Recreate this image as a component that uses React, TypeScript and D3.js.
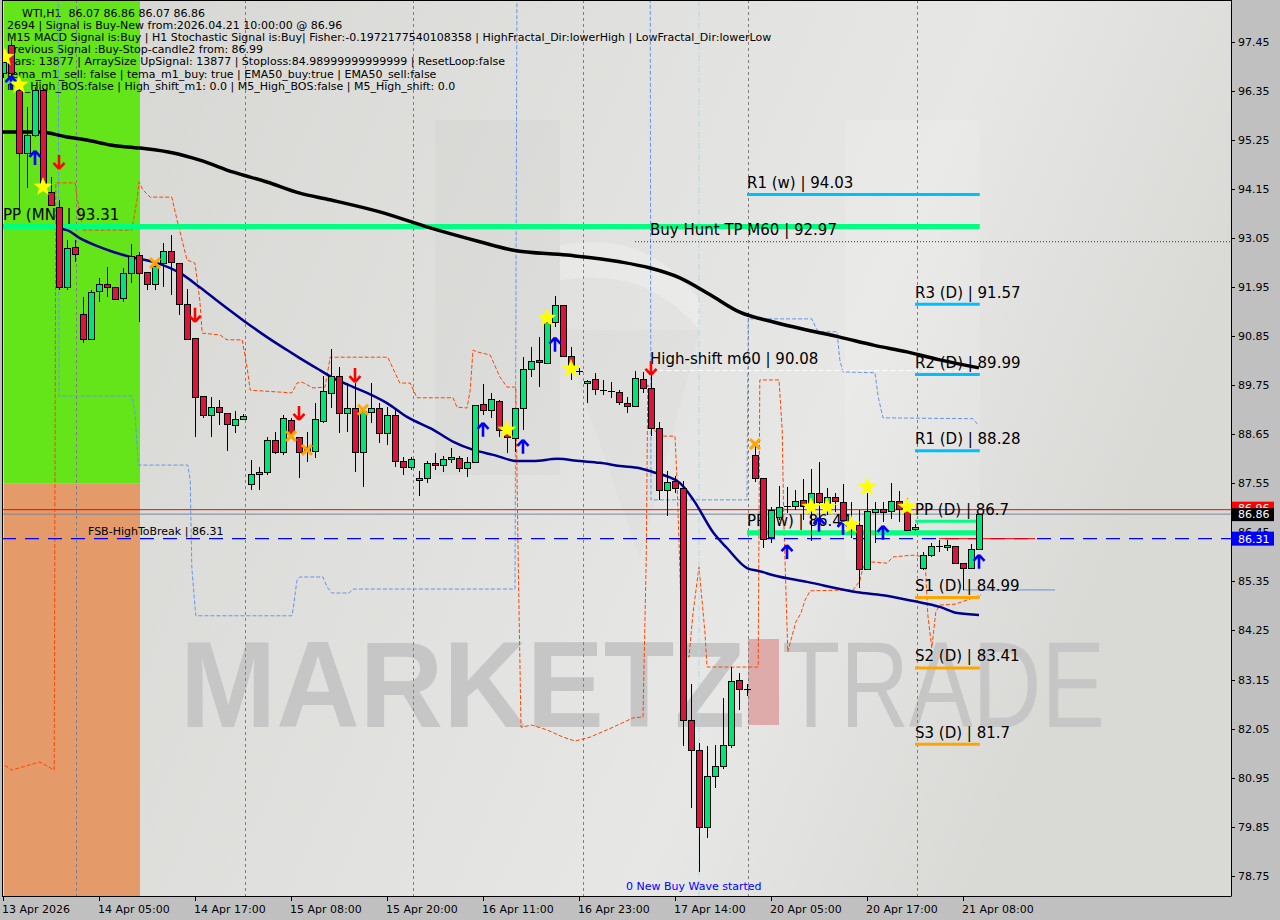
import * as d3 from "d3";

// WTI H1 candles, bar 0 = first visible bar
const opens = [
  96.75, 97.38, 96.37, 94.96, 95.36, 96.37, 94.09, 93.75, 91.95, 92.85,
  91.35, 90.79, 91.86, 92.02, 91.95, 91.71, 92.27, 92.67, 92.29, 92.02,
  92.49, 92.76, 92.49, 91.57, 90.81, 89.51, 89.08, 89.26, 89.13, 88.86,
  88.99, 87.54, 87.76, 87.81, 88.52, 88.25, 88.97, 88.59, 88.28, 88.28,
  88.95, 89.58, 89.96, 89.13, 89.24, 88.25, 89.15, 89.24, 88.68, 89.08,
  88.05, 87.92, 87.63, 87.67, 88.01, 87.96, 88.1, 88.12, 87.89, 88.03,
  89.33, 89.2, 89.4, 88.75, 88.57, 89.24, 90.11, 90.32, 90.25, 91.17,
  91.55, 90.41, 90.07, 89.8, 89.89, 89.64, 89.62, 89.6, 89.35, 89.28,
  89.89, 89.69, 88.79, 87.4, 87.6, 87.45, 82.24, 81.57, 79.84, 80.98,
  81.21, 81.68, 83.14, 82.94, 88.19, 87.67, 86.35, 86.79, 87.02, 87.04,
  87.18, 87.07, 87.34, 87.11, 87.24, 87.13, 86.57, 86.62, 85.63, 86.91,
  86.97, 86.93, 87.15, 86.97, 86.53, 85.65, 85.94, 86.13, 86.12, 86.14,
  85.76, 85.65, 86.07,
];
const highs = [
  97.09, 97.49, 96.66, 96.0, 96.44, 96.42, 94.42, 93.91, 93.01, 93.01,
  91.73, 91.89, 92.16, 92.4, 91.95, 92.38, 92.92, 92.74, 92.29, 92.49,
  92.94, 93.12, 92.49, 91.91, 90.81, 89.51, 89.49, 89.42, 89.13, 89.17,
  89.1, 88.07, 87.92, 88.59, 88.7, 89.08, 89.01, 88.59, 88.7, 89.35,
  89.96, 90.56, 90.16, 89.8, 89.8, 89.17, 89.8, 89.35, 89.26, 89.2,
  88.14, 88.14, 87.83, 88.05, 88.23, 88.16, 88.34, 88.16, 88.14, 89.31,
  89.78, 89.58, 89.42, 88.86, 89.24, 90.38, 90.61, 90.83, 91.17, 91.75,
  91.55, 90.61, 90.14, 89.87, 90.03, 89.87, 89.82, 89.64, 89.49, 90.07,
  90.05, 90.0, 88.93, 87.83, 87.72, 87.61, 83.05, 81.72, 81.66, 81.68,
  82.73, 83.43, 83.3, 83.05, 88.41, 87.67, 87.02, 87.49, 87.47, 87.4,
  87.65, 87.87, 88.03, 87.45, 87.34, 87.54, 87.13, 86.95, 87.34, 87.13,
  87.13, 87.56, 87.38, 87.22, 86.64, 86.01, 86.21, 86.28, 86.28, 86.14,
  85.76, 86.19, 86.87,
];
const lows = [
  96.64, 96.6, 93.68, 94.18, 95.32, 94.13, 93.77, 91.89, 91.89, 92.52,
  90.7, 90.77, 91.62, 91.73, 91.66, 91.62, 92.04, 91.17, 91.89, 91.89,
  91.95, 91.78, 91.33, 90.79, 88.59, 89.02, 88.59, 88.86, 88.28, 88.68,
  88.97, 87.4, 87.4, 87.74, 88.21, 88.19, 88.61, 87.67, 88.03, 88.12,
  88.9, 89.24, 88.68, 88.7, 87.81, 87.47, 88.9, 88.45, 88.41, 87.92,
  87.74, 87.85, 87.27, 87.56, 87.85, 87.81, 88.01, 87.81, 87.69, 88.01,
  89.08, 89.02, 88.59, 88.23, 88.25, 88.75, 89.94, 89.71, 90.25, 91.06,
  90.41, 89.87, 89.98, 89.35, 89.53, 89.53, 89.46, 89.31, 89.13, 89.26,
  89.58, 88.61, 87.18, 86.82, 87.34, 81.66, 80.27, 78.83, 79.59, 80.72,
  81.14, 81.61, 82.47, 82.78, 87.58, 86.1, 86.21, 86.73, 86.88, 86.95,
  86.73, 86.26, 86.62, 86.84, 86.91, 86.5, 86.32, 85.2, 85.63, 86.21,
  86.68, 86.75, 86.68, 86.5, 86.48, 85.61, 85.9, 86.01, 86.03, 85.76,
  85.16, 85.63, 86.07,
];
const closes = [
  97.0, 96.75, 94.96, 95.36, 96.37, 94.2, 93.79, 91.95, 92.83, 92.69,
  90.79, 91.84, 92.02, 91.95, 91.68, 92.27, 92.65, 92.27, 92.02, 92.43,
  92.76, 92.52, 91.57, 90.79, 89.49, 89.08, 89.26, 89.15, 88.88, 88.99,
  89.06, 87.76, 87.81, 88.52, 88.25, 89.02, 88.68, 88.25, 88.37, 88.99,
  89.62, 89.96, 89.13, 89.24, 88.25, 89.17, 89.24, 88.68, 89.08, 88.05,
  87.92, 88.1, 87.67, 88.01, 87.96, 88.1, 88.14, 87.89, 88.03, 89.31,
  89.2, 89.44, 88.75, 88.59, 89.24, 90.11, 90.29, 90.27, 91.17, 91.55,
  90.41, 90.16, 90.05, 89.85, 89.67, 89.63, 89.61, 89.38, 89.28, 89.91,
  89.69, 88.79, 87.4, 87.58, 87.45, 82.24, 81.57, 79.84, 80.98, 81.21,
  81.68, 83.12, 82.94, 82.93, 87.67, 86.3, 86.95, 87.02, 87.04, 87.15,
  87.04, 87.34, 87.13, 87.24, 87.15, 86.73, 86.62, 85.63, 86.93, 86.97,
  86.91, 87.15, 86.97, 86.5, 86.57, 85.94, 86.14, 86.14, 86.17, 85.76,
  85.65, 86.08, 86.86,
];

const priceTicks = [
  97.45, 96.35, 95.25, 94.15, 93.05, 91.95, 90.85, 89.75, 88.65, 87.55,
  86.45, 85.35, 84.25, 83.15, 82.05, 80.95, 79.85, 78.75,
];
const timeLabelBars = [0, 12, 24, 36, 48, 60, 72, 84, 96, 108, 120];
const timeLabels = [
  "13 Apr 2026", "14 Apr 05:00", "14 Apr 17:00", "15 Apr 08:00", "15 Apr 20:00",
  "16 Apr 11:00", "16 Apr 23:00", "17 Apr 14:00", "20 Apr 05:00", "20 Apr 17:00",
  "21 Apr 08:00",
];
const sessionBars = [9.1, 30.25, 51.3, 72.45, 93.1, 114.25];

// [bar, price]
const ema200 = [
  [-0.4, 95.43], [4.6, 95.43], [8, 95.32], [10.5, 95.25], [13.4, 95.14], [17.1, 95.07],
  [21.3, 94.96], [24.6, 94.8], [28.8, 94.53], [33, 94.31], [37.1, 94.06], [40.9, 93.91],
  [47.1, 93.64], [53.4, 93.28], [59.6, 92.97], [63.8, 92.78], [70.5, 92.67], [77.1, 92.52],
  [80.9, 92.38], [84.6, 92.16], [88.4, 91.78], [92.1, 91.39], [96.3, 91.17], [100.5, 90.99],
  [104.6, 90.83], [108.8, 90.65], [113, 90.5], [117.1, 90.32], [122, 90.14],
];
const ema50 = [
  [6.9, 93.26], [8, 93.23], [9.6, 93.05], [11.8, 92.87], [13.8, 92.74], [15.9, 92.63],
  [19.3, 92.49], [22.1, 92.27], [24.6, 91.95], [27.1, 91.6], [30, 91.21], [33, 90.83],
  [35.5, 90.54], [37.1, 90.36], [39.6, 90.09], [41.3, 89.91], [43.8, 89.71], [45.5, 89.58],
  [48, 89.35], [50.5, 89.04], [53.8, 88.75], [56.3, 88.48], [58.8, 88.3], [61.3, 88.19],
  [64.3, 88.05], [66.3, 88.05], [69.3, 88.1], [72.1, 88.05], [74.6, 88.01], [77.1, 87.94],
  [79.6, 87.89], [81.3, 87.8], [83, 87.71], [84.6, 87.56], [86.3, 87.18], [88.8, 86.44],
  [90.5, 86.1], [93, 85.65], [94.6, 85.58], [96.3, 85.49], [100.5, 85.34], [106.8, 85.11],
  [110, 85.04], [113.8, 84.91], [117.1, 84.78], [119.3, 84.64], [122, 84.6],
];
const orangeBand = [
  [-0.4, 81.3], [1.1, 81.12], [4.6, 81.3], [6.4, 81.12], [6.6, 94.29], [9, 94.29],
  [9.25, 93.97], [10, 93.23], [16.1, 93.23], [16.75, 93.91], [17, 94.31], [17.5, 94.13],
  [18.4, 93.97], [21.1, 93.97], [21.75, 93.46], [23, 92.56], [24, 92.49], [24.6, 91.66],
  [24.9, 90.92], [27.1, 90.88], [28, 90.77], [29.9, 90.77], [30.5, 90.16], [30.9, 89.64],
  [36.1, 89.58], [36.75, 89.8], [37.4, 89.82], [38.75, 89.69], [40.25, 89.71], [40.9, 90.38],
  [48.1, 90.38], [49, 90.03], [49.6, 89.8], [50.9, 89.8], [51.75, 89.47], [56.25, 89.47],
  [56.75, 89.26], [58, 89.24], [58.4, 89.64], [58.75, 90.54], [59.25, 90.5], [60.9, 90.43],
  [62.1, 89.94], [63, 89.71], [64.1, 89.71], [64.4, 85.83], [64.75, 82.08], [66.1, 82.13],
  [68, 82.02], [70, 81.86], [71.5, 81.77], [73.4, 81.86], [76.25, 82.08], [78.75, 82.29],
  [80, 82.31], [80.4, 85.83], [80.6, 89.76], [81.1, 89.58], [81.4, 88.75], [82.1, 88.61],
  [84, 88.61], [84.25, 87.63], [84.6, 85.67], [84.9, 83.81], [85.75, 83.65], [86.25, 84.64],
  [87, 85.67], [87.75, 84.19], [88, 83.43], [93, 83.43], [94.4, 83.43], [94.6, 89.87],
  [97, 89.87], [97.4, 88.75], [97.6, 86.73], [97.9, 84.93], [98.1, 83.77], [98.5, 84.04],
  [99.1, 84.44], [99.75, 84.64], [100.25, 84.93], [100.9, 85.14], [106.25, 85.16], [107.1, 85.36],
  [107.5, 85.67], [108.4, 85.79], [110.5, 85.76], [111.25, 85.9], [113.75, 85.94], [115.25, 85.9],
  [115.6, 84.6], [116.1, 83.86], [116.6, 84.66], [117.1, 84.82], [119, 84.84], [121.25, 84.98],
  [122.25, 85.05],
];
const blueBand = [
  [6.9, 98.85], [7, 89.51], [16.1, 89.51], [16.5, 89.13], [16.9, 87.96], [23.1, 87.96],
  [23.4, 87.63], [23.6, 85.67], [24, 84.78], [24.1, 84.58], [36.1, 84.58], [36.25, 84.71],
  [36.75, 85.38], [37.1, 85.45], [40, 85.45], [40.5, 85.23], [41.1, 85.09], [43.25, 85.09],
  [43.75, 85.18], [64, 85.18], [64.25, 98.85], [80.9, 98.85], [81, 87.18], [93, 87.18],
  [93.15, 91.24], [101.1, 91.24], [101.75, 90.99], [102.1, 90.95], [104.25, 90.95], [104.6, 90.32],
  [105, 90.05], [109, 90.03], [109.4, 89.49], [110, 89.02], [121.25, 89.0], [121.9, 88.86],
];

const upArrows = [
  [1, 96.53], [4, 94.85], [60, 88.75], [65, 88.37], [69, 90.66], [98, 86.01],
  [102, 86.62], [105, 86.55], [110, 86.44], [122, 85.79],
];
const downArrows = [[7, 94.76], [24, 91.33], [37, 89.13], [44, 89.98], [81, 90.14]];
const stars = [
  [0.25, 97.11], [2, 96.49], [5, 94.2], [68, 91.26], [63, 88.75], [71, 90.12],
  [101, 87.02], [103, 87.02], [106, 86.62], [108, 87.47], [113, 87.02],
];
const crosses = [[19, 92.49], [36, 88.61], [38, 88.3], [45, 89.2], [94, 88.43]];

// pivot / signal levels
const levelNames = [
  "PP (MN)", "R1 (w)", "PP (w)", "R3 (D)", "R2 (D)", "R1 (D)", "PP (D)", "S1 (D)", "S2 (D)", "S3 (D)",
];
const levelValues = [93.31, 94.03, 86.44, 91.57, 89.99, 88.28, 86.7, 84.99, 83.41, 81.7];
const levelStart = [-0.4, 93, 93, 114, 114, 114, 114, 114, 114, 114];
const labelStart = [0, 93, 93, 114, 114, 114, 114, 114, 114, 114];
const levelKinds = ["pp", "r", "pp", "r", "r", "r", "ppd", "s", "s", "s"];
const levelLabels = ["93.31", "94.03", "86.44", "91.57", "89.99", "88.28", "86.7", "84.99", "83.41", "81.7"];

const buyHuntTP = 92.97;
const highShift = 90.08;
const fsbHigh = 86.31;
const askPrice = 86.96;
const bidPrice = 86.86;
const newWaveBar = 87;

const headerLines = [
  "2694 | Signal is Buy-New from:2026.04.21 10:00:00 @ 86.96",
  "M15 MACD Signal is:Buy | H1 Stochastic Signal is:Buy| Fisher:-0.1972177540108358 | HighFractal_Dir:lowerHigh | LowFractal_Dir:lowerLow",
  "Previous Signal :Buy-Stop-candle2 from: 86.99",
  "Bars: 13877 | ArraySize UpSignal: 13877 | Stoploss:84.98999999999999 | ResetLoop:false",
  "tema_m1_sell: false | tema_m1_buy: true | EMA50_buy:true | EMA50_sell:false",
  "m1_High_BOS:false | High_shift_m1: 0.0 | M5_High_BOS:false | M5_High_shift: 0.0",
];

const W = 1280;
const H = 920;
const PL = 2;
const PR = 1231;
const PB = 896;

const FONT = "DejaVu Sans, Verdana, sans-serif";

function starPath(cx: number, cy: number, R: number, r: number) {
  const pts: string[] = [];
  for (let k = 0; k < 10; k++) {
    const rad = k % 2 === 0 ? R : r;
    const a = -Math.PI / 2 + (k * Math.PI) / 5;
    pts.push(`${cx + rad * Math.cos(a)},${cy + rad * Math.sin(a)}`);
  }
  return "M" + pts.join("L") + "Z";
}

export default function App() {
  const x = d3.scaleLinear().domain([0, 122]).range([3, 979]);
  const y = d3.scaleLinear().domain([97.45, 78.75]).range([42, 875.7]);
  const smooth = d3
    .line<number[]>()
    .x((d) => x(d[0]))
    .y((d) => y(d[1]))
    .curve(d3.curveMonotoneX);
  const step = d3
    .line<number[]>()
    .x((d) => x(d[0]))
    .y((d) => y(d[1]));

  const levelColor = (k: string) =>
    k === "r" ? "#00BFFF" : k === "s" ? "#FFA500" : "#00FF7F";
  const levelWidth = (k: string) => (k === "pp" ? 5 : 3);

  return (
    <svg
      width={W}
      height={H}
      style={{ position: "absolute", left: 0, top: 0, background: "#C0C0C0" }}
    >
      <defs>
        <linearGradient id="bg" x1="0" y1="0" x2="1" y2="0.3">
          <stop offset="0%" stopColor="#D5D5D2" />
          <stop offset="55%" stopColor="#E2E2E0" />
          <stop offset="75%" stopColor="#E7E7E6" />
          <stop offset="100%" stopColor="#D9D9D6" />
        </linearGradient>
        <clipPath id="plot">
          <rect x={PL} y={0} width={PR - PL} height={PB} />
        </clipPath>
      </defs>

      <rect x={0} y={0} width={W} height={H} fill="#C0C0C0" />
      <rect x={PL} y={0} width={PR - PL} height={PB} fill="url(#bg)" />

      <g clipPath="url(#plot)">
        {/* logo watermark, faint */}
        <rect x={435} y={120} width={125} height={355} fill="#000" opacity={0.018} />
        <path d="M560,245 C620,235 660,250 700,300 L700,330 C660,285 620,272 560,280 Z" fill="#fff" opacity={0.25} />
        <path d="M560,330 L640,560 L700,330 Z" fill="#000" opacity={0.015} />
        <rect x={845} y={120} width={135} height={440} fill="#fff" opacity={0.12} />

        {/* session zones */}
        <rect x={x(0) + 1} y={0} width={x(17) - x(0)} height={y(87.55)} fill="#63E51A" />
        <rect x={x(0) + 1} y={y(87.55)} width={x(17) - x(0)} height={PB - y(87.55)} fill="#E59A6A" />

        {/* big brand text */}
        <text x={180} y={727} fontFamily="Liberation Sans, Arial, sans-serif" fontWeight="bold" fontSize={122}
          textLength={565} lengthAdjust="spacingAndGlyphs" fill="#C6C6C6">MARKETZ</text>
        <rect x={748} y={639} width={31} height={86} fill="#DFAAAA" />
        <text x={782} y={727} fontFamily="Liberation Sans, Arial, sans-serif" fontSize={122}
          textLength={323} lengthAdjust="spacingAndGlyphs" fill="#C6C6C6">TRADE</text>

        {/* vertical session grid */}
        {sessionBars.map((b) => (
          <line key={b} x1={Math.round(x(b)) + 0.5} x2={Math.round(x(b)) + 0.5} y1={0} y2={PB}
            stroke="#7E7E7E" strokeDasharray="3,3" />
        ))}

        {/* header text */}
        <g fontFamily={FONT} fontSize={11} fill="#000">
          <text x={22} y={16.5} style={{ whiteSpace: "pre" }}>{"WTI,H1  86.07 86.86 86.07 86.86"}</text>
          {headerLines.map((t, i) => (
            <text key={i} x={7} y={29 + i * 12.15} style={{ whiteSpace: "pre" }}>{t}</text>
          ))}
        </g>

        {/* price lines */}
        <line x1={PL} x2={PR} y1={y(askPrice)} y2={y(askPrice)} stroke="#FF0000" strokeWidth={1} />
        <line x1={PL} x2={PR} y1={y(bidPrice)} y2={y(bidPrice)} stroke="#778899" strokeWidth={1} />

        {/* bands */}
        <path d={step(blueBand) || ""} fill="none" stroke="#6495ED" strokeWidth={1} strokeDasharray="4,2" />
        <path d={step(orangeBand) || ""} fill="none" stroke="#FF4500" strokeWidth={1} strokeDasharray="4,2" />
        <line x1={x(newWaveBar)} x2={x(newWaveBar)} y1={0} y2={PB} stroke="#A8DDE6" strokeWidth={1} strokeDasharray="6,2,1,2" />

        {/* FSB line */}
        <line x1={PL} x2={PR} y1={y(fsbHigh)} y2={y(fsbHigh)} stroke="#0000FF" strokeWidth={1.3} strokeDasharray="14,9" />
        <line x1={x(117)} x2={x(129)} y1={y(fsbHigh)} y2={y(fsbHigh)} stroke="#FF0000" strokeWidth={1} />
        <line x1={x(120)} x2={x(131.5)} y1={y(85.16)} y2={y(85.16)} stroke="#6A8FD8" strokeWidth={1} />

        {/* signal + pivot lines */}
        <line x1={x(79)} x2={PR} y1={y(buyHuntTP)} y2={y(buyHuntTP)} stroke="#333" strokeWidth={1} strokeDasharray="1,2" />
        <line x1={x(80.9)} x2={x(122.1)} y1={y(highShift)} y2={y(highShift)} stroke="#FFFFFF" strokeWidth={1} strokeDasharray="5,3" />
        {levelValues.map((v, i) => (
          <line key={levelNames[i]} x1={x(levelStart[i])} x2={x(122.1)} y1={y(v)} y2={y(v)}
            stroke={levelColor(levelKinds[i])} strokeWidth={levelWidth(levelKinds[i])} />
        ))}

        {/* labels */}
        <g fontFamily={FONT} fill="#000">
          <text x={88} y={y(fsbHigh) - 3.5} fontSize={11}>FSB-HighToBreak | 86.31</text>
          <text x={650} y={y(buyHuntTP) - 6.5} fontSize={15}>Buy Hunt TP M60 | 92.97</text>
          <text x={650} y={y(highShift) - 7} fontSize={15}>High-shift m60 | 90.08</text>
          {levelValues.map((v, i) => (
            <text key={levelNames[i]} x={x(labelStart[i])} y={y(v) - 6.5} fontSize={15}
              style={{ whiteSpace: "pre" }}>
              {`${levelNames[i]} | ${levelLabels[i]}`}
            </text>
          ))}
        </g>

        {/* moving averages */}
        <path d={smooth(ema200) || ""} fill="none" stroke="#000" strokeWidth={3.5} />
        <path d={smooth(ema50) || ""} fill="none" stroke="#00008B" strokeWidth={2.5} />

        {/* candles */}
        <g shapeRendering="crispEdges">
          {opens.map((o, i) => {
            const c = closes[i];
            const cx = Math.round(x(i)) + 0.5;
            const top = Math.round(y(Math.max(o, c)));
            const bot = Math.round(y(Math.min(o, c)));
            const up = c >= o;
            return (
              <g key={i}>
                <line x1={cx} x2={cx} y1={y(highs[i])} y2={y(lows[i])} stroke="#000" strokeWidth={1} />
                {bot - top < 2 ? (
                  <line x1={cx - 3.5} x2={cx + 3.5} y1={top + 0.5} y2={top + 0.5} stroke="#000" strokeWidth={1} />
                ) : (
                  <rect x={cx - 3} y={top + 0.5} width={6} height={bot - top} fill={up ? "#00E676" : "#DC143C"}
                    stroke="#000" strokeWidth={1} />
                )}
              </g>
            );
          })}
        </g>

        {/* markers */}
        {upArrows.map(([b, p], i) => {
          const cx = x(b);
          const cy = y(p);
          return (
            <path key={"u" + i} d={`M${cx},${cy - 7} L${cx - 5.5},${cy - 1} M${cx},${cy - 7} L${cx + 5.5},${cy - 1} M${cx},${cy - 7} L${cx},${cy + 7}`}
              stroke="#0000FF" strokeWidth={2.6} fill="none" />
          );
        })}
        {downArrows.map(([b, p], i) => {
          const cx = x(b);
          const cy = y(p);
          return (
            <path key={"d" + i} d={`M${cx},${cy + 7} L${cx - 5.5},${cy + 1} M${cx},${cy + 7} L${cx + 5.5},${cy + 1} M${cx},${cy + 7} L${cx},${cy - 7}`}
              stroke="#FF0000" strokeWidth={2.6} fill="none" />
          );
        })}
        {stars.map(([b, p], i) => (
          <path key={"s" + i} d={starPath(x(b), y(p), 10, 4.2)} fill="#FFFF00" />
        ))}
        {crosses.map(([b, p], i) => {
          const cx = x(b);
          const cy = y(p);
          return (
            <path key={"x" + i} d={`M${cx - 5},${cy - 5} L${cx + 5},${cy + 5} M${cx + 5},${cy - 5} L${cx - 5},${cy + 5}`}
              stroke="#FFA500" strokeWidth={3} />
          );
        })}

        <text x={626} y={890} fontFamily={FONT} fontSize={11} fill="#0000FF">0 New Buy Wave started</text>
      </g>

      {/* frame */}
      <line x1={PL + 0.5} x2={PL + 0.5} y1={0} y2={PB} stroke="#000" />
      <line x1={PR + 0.5} x2={PR + 0.5} y1={0} y2={PB + 0.5} stroke="#000" />
      <line x1={PL} x2={PR} y1={PB + 0.5} y2={PB + 0.5} stroke="#000" />
      <line x1={PL} x2={PR} y1={0.5} y2={0.5} stroke="#000" />

      {/* price axis */}
      <g fontFamily={FONT} fontSize={11} fill="#000">
        {priceTicks.map((t) => (
          <g key={t}>
            <line x1={PR} x2={PR + 4} y1={Math.round(y(t)) + 0.5} y2={Math.round(y(t)) + 0.5} stroke="#000" />
            <text x={1238} y={y(t) + 4}>{t.toFixed(2)}</text>
          </g>
        ))}
        <rect x={1232} y={y(askPrice) - 8} width={42} height={14} fill="#FF0000" />
        <text x={1238} y={y(askPrice) + 2} fill="#fff">86.96</text>
        <rect x={1232} y={y(bidPrice) - 6} width={42} height={13} fill="#000" />
        <text x={1238} y={y(bidPrice) + 4} fill="#fff">86.86</text>
        <rect x={1232} y={y(fsbHigh) - 7} width={42} height={14} fill="#0000FF" />
        <text x={1238} y={y(fsbHigh) + 4} fill="#fff">86.31</text>
      </g>

      {/* time axis */}
      <g fontFamily={FONT} fontSize={11} fill="#000">
        {timeLabelBars.map((b, i) => (
          <g key={b}>
            <line x1={Math.round(x(b)) + 0.5} x2={Math.round(x(b)) + 0.5} y1={PB} y2={PB + 5} stroke="#000" />
            <text x={x(b) - 1} y={913}>{timeLabels[i]}</text>
          </g>
        ))}
      </g>
    </svg>
  );
}
